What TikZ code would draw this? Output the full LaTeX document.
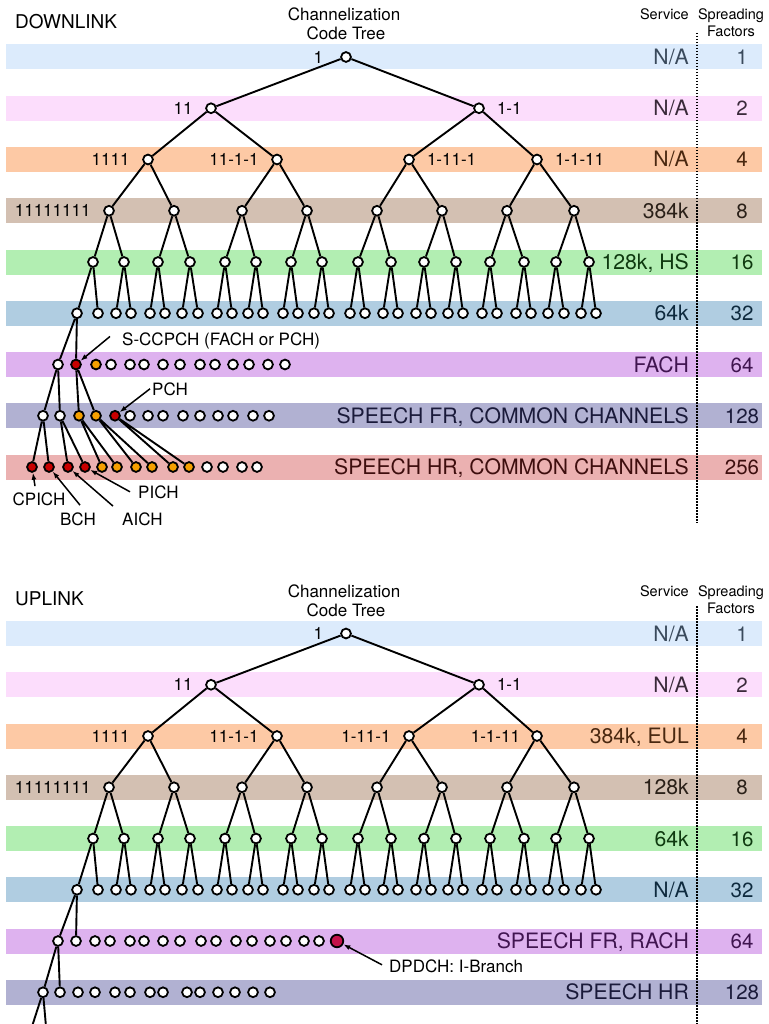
\documentclass[tikz,border=0pt]{standalone}
\usepackage{fontspec}
\setmainfont{TeX Gyre Heros}
\usetikzlibrary{positioning,calc,arrows.meta}

\definecolor{band0}{HTML}{DCEBFC}\definecolor{ink0}{HTML}{3A4A5C}
\definecolor{band1}{HTML}{FCDDFC}\definecolor{ink1}{HTML}{3A2A3A}
\definecolor{band2}{HTML}{FDC9A5}\definecolor{ink2}{HTML}{4A2810}
\definecolor{band3}{HTML}{D3C0B2}\definecolor{ink3}{HTML}{2A2018}
\definecolor{band4}{HTML}{B2EEB2}\definecolor{ink4}{HTML}{0F3A10}
\definecolor{band5}{HTML}{B0CDE1}\definecolor{ink5}{HTML}{0E2A3E}
\definecolor{band6}{HTML}{DEB2EF}\definecolor{ink6}{HTML}{401550}
\definecolor{band7}{HTML}{B1B1D2}\definecolor{ink7}{HTML}{1A1A3A}
\definecolor{band8}{HTML}{EBB1B1}\definecolor{ink8}{HTML}{3E0E0E}
\definecolor{chred}{HTML}{C80000}
\definecolor{chorange}{HTML}{F5A000}
\definecolor{chcrimson}{HTML}{C4124A}

\tikzset{
    code/.style={circle,draw,fill=white,line width=1.8pt,inner sep=0pt,minimum size=9.8pt},
    branch/.style={line width=1.9pt},
    codelbl/.style={inner sep=0pt,font=\fontsize{17}{19}\selectfont},
    svc/.style={anchor=base east,inner sep=0pt,font=\fontsize{21.2}{24}\selectfont},
    sfnum/.style={anchor=base,inner sep=0pt,font=\fontsize{20.5}{24}\selectfont},
    colhead/.style={inner sep=0pt,font=\fontsize{14.5}{17}\selectfont},
    linkname/.style={anchor=base west,inner sep=0pt,font=\fontsize{19}{22}\selectfont},
    treehead/.style={anchor=base,inner sep=0pt,font=\fontsize{17}{20}\selectfont},
    chnote/.style={inner sep=2pt,font=\fontsize{17}{19}\selectfont},
    pointer/.style={-{Latex[length=7pt,width=5pt]},line width=1.5pt},
    sfsep/.style={line width=1.5pt,dash pattern=on 1.5pt off 1.5pt},
  }

% levels 1 to 6 of the code tree, #1 = prefix of the node names
\newcommand{\codetree}[1]{%
  \foreach \lev/\yy/\xs in {1/57/{346},
      2/108.25/{211,479},
      3/159.5/{148,277,409,537},
      4/210.75/{109,174,242,307,377,442,507,574},
      5/262/{93,124,158,190,225,256,291,322,358,391,424,456,490,524,556,589},
      6/313.25/{77,98,116,131,150,165,182,198,217,232,248,263,283,298,314,329,350,365,383,398,416,431,448,463,482,497,516,531,548,564,581,596}}
    {\foreach \x [count=\i] in \xs {\node[code] (#1-\lev-\i) at (\x,\yy) {};}}
  \foreach \lev in {1,...,5}{%
    \pgfmathtruncatemacro\nn{2^(\lev-1)}%
    \pgfmathtruncatemacro\nxt{\lev+1}%
    \foreach \i in {1,...,\nn}{%
      \pgfmathtruncatemacro\ca{2*\i-1}%
      \pgfmathtruncatemacro\cb{2*\i}%
      \draw[branch] (#1-\nxt-\ca) -- (#1-\lev-\i) -- (#1-\nxt-\cb);
    }%
  }%
}

\begin{document}
\begin{tikzpicture}[x=1pt,y=-1pt]
    \useasboundingbox (0,0) rectangle (768,1024);

    %% DOWNLINK
    \foreach \svc/\sf [count=\k from 0] in {{N/A}/1,{N/A}/2,{N/A}/4,384k/8,{128k, HS}/16,64k/32,FACH/64,{SPEECH FR, COMMON CHANNELS}/128,{SPEECH HR, COMMON CHANNELS}/256}{
      \pgfmathsetmacro\yy{57+51.25*\k}
      \fill[fill=band\k] (6,\yy-12.5) rectangle (762,\yy+12.5);
      \node[svc,text=ink\k] (d-svc-\k) at (689,\yy+7.5) {\svc};
      \node[sfnum,text=ink\k] (d-sf-\k) at (742,\yy+7.5) {\sf};
    }
    \node[linkname] (d-title) at (15,29) {DOWNLINK};
    \node[treehead] (d-head-1) at (344,21) {Channelization};
    \node[treehead] (d-head-2) at (346,40) {Code Tree};
    \node[colhead,anchor=base east] (d-service) at (689,20) {Service};
    \node[colhead,anchor=base] (d-spread) at (731,20) {Spreading};
    \node[colhead,anchor=base] (d-factors) at (731,37) {Factors};
    \draw[sfsep] (697,33) -- (697,523);

    \codetree{d}
    \node[codelbl,left=17pt of d-1-1] (d-lbl-1) {1};
    \node[codelbl,left=12.5pt of d-2-1] (d-lbl-2) {11};
    \node[codelbl,right=12pt of d-2-2] (d-lbl-3) {1-1};
    \node[codelbl,left=12.5pt of d-3-1] (d-lbl-4) {1111};
    \node[codelbl,left=12.5pt of d-3-2] (d-lbl-5) {11-1-1};
    \node[codelbl,right=12pt of d-3-3] (d-lbl-6) {1-11-1};
    \node[codelbl,right=12pt of d-3-4] (d-lbl-7) {1-1-11};
    \node[codelbl,left=12.5pt of d-4-1] (d-lbl-8) {11111111};

    % SF 64, 128, 256
    \foreach \x/\f [count=\i] in {58/white,76/chred,96/chorange,111/white,130/white,144/white,163/white,180/white,200/white,215/white,233/white,249/white,268/white,285/white}
      \node[code,fill=\f] (d-7-\i) at (\x,364.5) {};
    \foreach \x/\f [count=\i] in {43/white,60/white,79/chorange,96/chorange,115/chred,130/white,148/white,163/white,183/white,200/white,218/white,233/white,253/white,269/white}
      \node[code,fill=\f] (d-8-\i) at (\x,415.75) {};
    \foreach \x/\f [count=\i] in {32/chred,49/chred,68/chred,85/chred,102/chorange,117/chorange,136/chorange,152/chorange,173/chorange,189/chorange,207/white,223/white,242/white,257/white}
      \node[code,fill=\f] (d-9-\i) at (\x,467) {};
    \draw[branch] (d-7-1) -- (d-6-1) -- (d-7-2);
    \draw[branch] (d-8-1) -- (d-7-1) -- (d-8-2);
    \draw[branch] (d-8-3) -- (d-7-2) -- (d-8-4);
    \foreach \p/\a/\b in {1/1/2,2/3/4,3/5/6,4/7/8,5/9/10}
      \draw[branch] (d-9-\a) -- (d-8-\p) -- (d-9-\b);

    % common channels
    \node[chnote,anchor=base west] (d-sccpch) at (120,345) {S-CCPCH (FACH or PCH)};
    \node[chnote,anchor=base west] (d-pch) at (150,395) {PCH};
    \node[chnote,anchor=base west] (d-pich) at (136,498) {PICH};
    \node[chnote,anchor=base] (d-cpich) at (39,505) {CPICH};
    \node[chnote,anchor=base] (d-bch) at (78,525) {BCH};
    \node[chnote,anchor=base west] (d-aich) at (120,525) {AICH};
    \draw[pointer] ($(d-sccpch.west)+(-10,-4)$) -- (d-7-2);
    \draw[pointer] (d-pch.west) -- (d-8-5);
    \draw[pointer] ($(d-pich.west)+(-6,0)$) -- (d-9-4);
    \draw[pointer] ($(d-cpich.north)+(-4,-4)$) -- (d-9-1);
    \draw[pointer] ($(d-bch.north)+(2,-5)$) -- (d-9-2);
    \draw[pointer] ($(d-aich.north west)+(-7,-4)$) -- (d-9-3);

    %% UPLINK
    \begin{scope}[yshift=-576.5pt]
      \foreach \svc/\sf [count=\k from 0] in {{N/A}/1,{N/A}/2,{384k, EUL}/4,128k/8,64k/16,{N/A}/32,{SPEECH FR, RACH}/64,{SPEECH HR}/128}{
        \pgfmathsetmacro\yy{57+51.25*\k}
        \fill[fill=band\k] (6,\yy-12.5) rectangle (762,\yy+12.5);
        \node[svc,text=ink\k] (u-svc-\k) at (689,\yy+7.5) {\svc};
        \node[sfnum,text=ink\k] (u-sf-\k) at (742,\yy+7.5) {\sf};
      }
      \node[linkname] (u-title) at (15,29) {UPLINK};
      \node[treehead] (u-head-1) at (344,21) {Channelization};
      \node[treehead] (u-head-2) at (346,40) {Code Tree};
      \node[colhead,anchor=base east] (u-service) at (689,20) {Service};
      \node[colhead,anchor=base] (u-spread) at (731,20) {Spreading};
      \node[colhead,anchor=base] (u-factors) at (731,37) {Factors};
      \draw[sfsep] (697,29.5) -- (697,450);

      \codetree{u}
      \node[codelbl,left=17pt of u-1-1] (u-lbl-1) {1};
      \node[codelbl,left=12.5pt of u-2-1] (u-lbl-2) {11};
      \node[codelbl,right=12pt of u-2-2] (u-lbl-3) {1-1};
      \node[codelbl,left=12.5pt of u-3-1] (u-lbl-4) {1111};
      \node[codelbl,left=12.5pt of u-3-2] (u-lbl-5) {11-1-1};
      \node[codelbl,left=12.5pt of u-3-3] (u-lbl-6) {1-11-1};
      \node[codelbl,left=11pt of u-3-4] (u-lbl-7) {1-1-11};
      \node[codelbl,left=12.5pt of u-4-1] (u-lbl-8) {11111111};

      % SF 64, 128
      \foreach \x [count=\i] in {58,76,95,110,130,144,163,180,201,216,236,252,270,286,304,319}
        \node[code] (u-7-\i) at (\x,364.5) {};
      \node[code,fill=chcrimson,minimum size=12.5pt] (u-7-17) at (337,364.5) {};
      \foreach \x [count=\i] in {43,60,78,95,115,130,150,163,187,200,218,235,253,270}
        \node[code] (u-8-\i) at (\x,415.75) {};
      \coordinate (u-out-1) at (32,450);
      \coordinate (u-out-2) at (46,450);
      \draw[branch] (u-7-1) -- (u-6-1) -- (u-7-2);
      \draw[branch] (u-8-1) -- (u-7-1) -- (u-8-2);
      \draw[branch] (u-out-1) -- (u-8-1) -- (u-out-2);

      \node[chnote,anchor=base west] (u-dpdch) at (387,395.5) {DPDCH: I-Branch};
      \draw[pointer] ($(u-dpdch.west)+(-5,-1)$) -- (u-7-17);
    \end{scope}
\end{tikzpicture}
\end{document}
